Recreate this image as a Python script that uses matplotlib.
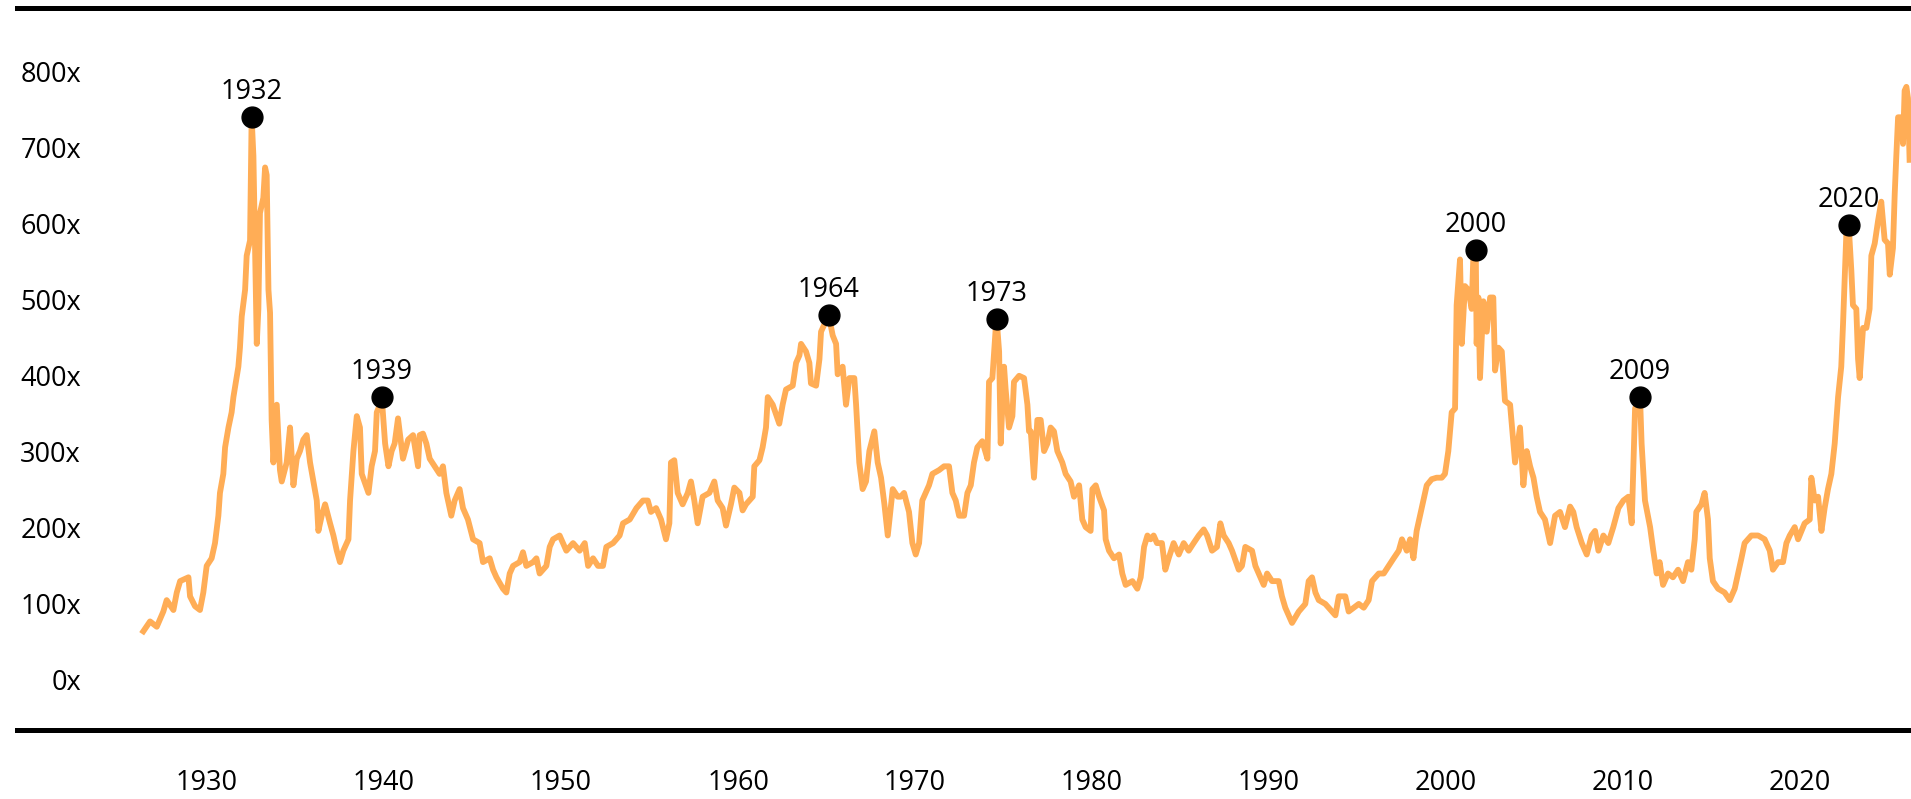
import matplotlib.pyplot as plt

plt.rcParams['font.family'] = ['Open Sans', 'DejaVu Sans']

# series (x in label-year units, y in "x" multiples)
years = [
    1926.40, 1926.78, 1927.16, 1927.53, 1927.72, 1928.10, 1928.29, 1928.48, 1928.95, 1929.04,
    1929.32, 1929.60, 1929.79, 1929.98, 1930.26, 1930.45, 1930.64, 1930.73, 1930.92, 1931.02,
    1931.21, 1931.39, 1931.49, 1931.77, 1931.86, 1931.96, 1932.15, 1932.24, 1932.43, 1932.52,
    1932.62, 1932.71, 1932.81, 1932.90, 1932.99, 1933.18, 1933.28, 1933.37, 1933.47, 1933.56,
    1933.65, 1933.75, 1933.94, 1934.12, 1934.22, 1934.50, 1934.69, 1934.88, 1935.07, 1935.25,
    1935.44, 1935.63, 1935.82, 1936.01, 1936.20, 1936.29, 1936.48, 1936.67, 1936.95, 1937.14,
    1937.33, 1937.51, 1937.70, 1937.99, 1938.08, 1938.27, 1938.46, 1938.64, 1938.74, 1939.12,
    1939.30, 1939.49, 1939.59, 1939.77, 1939.87, 1940.06, 1940.25, 1940.43,
    1940.60, 1940.79, 1941.07, 1941.36, 1941.64, 1941.92, 1942.01, 1942.20, 1942.39, 1942.58,
    1942.86, 1943.14, 1943.33, 1943.52, 1943.80, 1943.99, 1944.27, 1944.46, 1944.74, 1945.03,
    1945.40, 1945.59, 1945.97, 1946.16, 1946.35, 1946.72, 1946.91, 1947.10, 1947.29, 1947.66,
    1947.85, 1948.04, 1948.42, 1948.61, 1948.79, 1949.17, 1949.36, 1949.55, 1949.92, 1950.11,
    1950.30, 1950.68, 1951.05, 1951.34, 1951.53, 1951.81, 1952.09, 1952.37, 1952.56, 1952.94,
    1953.31, 1953.50, 1953.88, 1954.26, 1954.63,
    1954.90, 1955.08, 1955.37, 1955.65, 1955.93, 1956.12, 1956.21, 1956.40, 1956.59, 1956.87,
    1957.16, 1957.34, 1957.53, 1957.72, 1958.00, 1958.38, 1958.66, 1958.85, 1959.13, 1959.32,
    1959.60, 1959.79, 1960.08, 1960.26, 1960.45, 1960.83, 1960.92, 1961.21, 1961.39, 1961.58,
    1961.68, 1961.96, 1962.33, 1962.52, 1962.71, 1963.09, 1963.28, 1963.47, 1963.56, 1963.84,
    1964.03, 1964.12, 1964.41, 1964.60, 1964.69, 1965.12, 1965.35, 1965.54, 1965.63, 1965.91,
    1966.10, 1966.29, 1966.57, 1966.67, 1966.85, 1967.04, 1967.23, 1967.42, 1967.70, 1967.89,
    1968.08, 1968.27, 1968.46, 1968.74, 1969.02,
    1969.19, 1969.38, 1969.66, 1969.85, 1970.04, 1970.23, 1970.41, 1970.60, 1970.79, 1970.98,
    1971.36, 1971.64, 1971.92, 1972.11, 1972.30, 1972.49, 1972.77, 1972.96, 1973.15, 1973.33,
    1973.52, 1973.80, 1974.09, 1974.18, 1974.37, 1974.56, 1974.61, 1974.75, 1974.84, 1975.03,
    1975.12, 1975.31, 1975.50, 1975.59, 1975.88, 1976.16, 1976.35, 1976.44, 1976.54, 1976.72,
    1976.91, 1977.10, 1977.29, 1977.48, 1977.66, 1977.85, 1978.04, 1978.32, 1978.51, 1978.79,
    1978.98, 1979.27, 1979.45, 1979.64, 1979.92, 1980.02, 1980.21, 1980.40, 1980.68, 1980.77,
    1980.96, 1981.24, 1981.53, 1981.71, 1981.90, 1982.28, 1982.56, 1982.75, 1982.94, 1983.13,
    1983.31,
    1983.48, 1983.67, 1983.95, 1984.14, 1984.33, 1984.61, 1984.90, 1985.18, 1985.46, 1985.74,
    1986.03, 1986.31, 1986.50, 1986.78, 1987.06, 1987.25, 1987.44, 1987.72, 1987.91, 1988.29,
    1988.47, 1988.66, 1989.04, 1989.23, 1989.42, 1989.70, 1989.89, 1990.17, 1990.55, 1990.73,
    1990.92, 1991.11, 1991.30, 1991.68, 1992.05, 1992.24, 1992.43, 1992.62, 1992.81, 1993.18,
    1993.56, 1993.75, 1993.94, 1994.12, 1994.31, 1994.50, 1994.78, 1995.07, 1995.35, 1995.63,
    1995.82, 1996.20, 1996.48, 1996.76, 1997.04, 1997.33, 1997.51,
    1997.78, 1997.97, 1998.16, 1998.34, 1998.53, 1998.72, 1998.91, 1999.19, 1999.47, 1999.76,
    1999.94, 2000.13, 2000.32, 2000.51, 2000.60, 2000.79, 2000.89, 2001.07, 2001.26, 2001.45,
    2001.55, 2001.68, 2001.73, 2001.83, 2001.92, 2002.11, 2002.30, 2002.49, 2002.67, 2002.77,
    2002.96, 2003.15, 2003.33, 2003.62, 2003.90, 2004.18, 2004.37, 2004.56, 2004.75, 2004.94,
    2005.12, 2005.31, 2005.59, 2005.88, 2006.16, 2006.44, 2006.72, 2007.01, 2007.19, 2007.38,
    2007.67, 2007.95, 2008.23, 2008.42, 2008.61, 2008.89, 2009.17, 2009.45, 2009.74, 2010.02,
    2010.30, 2010.49, 2010.68, 2010.96, 2011.05, 2011.24, 2011.53, 2011.71, 2011.90,
    2012.07, 2012.26, 2012.54, 2012.82, 2013.11, 2013.39, 2013.67, 2013.86, 2014.05, 2014.14,
    2014.43, 2014.61, 2014.80, 2014.90, 2015.08, 2015.37, 2015.74, 2016.03, 2016.31, 2016.50,
    2016.69, 2016.87, 2017.25, 2017.63, 2018.00, 2018.29, 2018.47, 2018.76, 2019.04, 2019.23,
    2019.42, 2019.70, 2019.89, 2020.26, 2020.55, 2020.64, 2020.83, 2021.02, 2021.21, 2021.39,
    2021.58, 2021.77, 2021.96, 2022.15, 2022.33, 2022.43, 2022.62, 2022.75, 2022.90, 2022.99,
    2023.18, 2023.28, 2023.37, 2023.56, 2023.75, 2023.93, 2024.03, 2024.22, 2024.41, 2024.59,
    2024.78, 2024.97, 2025.07, 2025.25, 2025.35, 2025.44, 2025.54, 2025.73, 2025.82, 2025.91,
    2026.01, 2026.10, 2026.19,
]

ratio = [
    64, 77, 70, 90, 105, 92, 115, 130, 135, 110,
    97, 92, 115, 150, 160, 180, 216, 246, 271, 306,
    332, 352, 372, 412, 437, 478, 513, 558, 578, 740,
    689, 574, 442, 488, 614, 634, 674, 664, 513, 483,
    342, 286, 362, 276, 261, 286, 332, 256, 291, 301,
    316, 322, 286, 261, 236, 196, 216, 231, 206, 190,
    170, 155, 170, 185, 236, 301, 347, 332, 271, 246,
    281, 301, 352, 362, 372, 311, 281, 301,
    311, 344, 291, 316, 322, 281, 322, 324, 311, 291,
    281, 271, 281, 246, 216, 236, 251, 226, 211, 185,
    180, 155, 160, 145, 135, 120, 115, 140, 150, 155,
    168, 150, 155, 160, 140, 150, 175, 185, 190, 180,
    170, 180, 170, 180, 150, 160, 150, 150, 175, 180,
    190, 206, 211, 226, 236,
    236, 221, 226, 211, 185, 206, 286, 289, 246, 231,
    246, 261, 236, 206, 241, 246, 261, 236, 226, 203,
    231, 253, 246, 223, 231, 241, 281, 289, 306, 332,
    372, 362, 337, 362, 382, 387, 417, 427, 442, 432,
    417, 390, 387, 422, 458, 480, 453, 442, 402, 412,
    362, 397, 397, 362, 286, 251, 261, 301, 327, 286,
    266, 231, 190, 251, 241,
    241, 246, 221, 180, 165, 180, 236, 246, 256, 271,
    276, 281, 281, 246, 236, 216, 216, 246, 256, 286,
    306, 314, 291, 392, 397, 463, 475, 432, 311, 412,
    382, 332, 347, 392, 400, 397, 362, 327, 327, 266,
    342, 342, 301, 311, 332, 327, 301, 286, 271, 261,
    241, 256, 211, 201, 196, 251, 256, 241, 223, 185,
    170, 160, 165, 140, 125, 130, 120, 135, 175, 190,
    185,
    190, 180, 180, 145, 160, 180, 165, 180, 170, 180,
    190, 198, 190, 170, 175, 206, 190, 180, 170, 145,
    150, 175, 170, 150, 140, 125, 140, 130, 130, 110,
    95, 85, 75, 90, 100, 130, 135, 115, 105, 100,
    90, 85, 110, 110, 110, 90, 95, 100, 95, 105,
    130, 140, 140, 150, 160, 170, 185,
    170, 185, 160, 196, 216, 236, 256, 264, 266, 266,
    271, 301, 352, 357, 493, 553, 442, 518, 513, 488,
    563, 566, 442, 503, 397, 498, 458, 503, 503, 407,
    437, 432, 367, 362, 286, 332, 256, 301, 281, 266,
    241, 221, 211, 180, 216, 221, 201, 228, 221, 201,
    180, 165, 190, 196, 170, 190, 180, 201, 226, 236,
    241, 206, 357, 372, 311, 236, 201, 170, 140,
    155, 125, 140, 135, 145, 130, 155, 145, 185, 221,
    231, 246, 211, 160, 130, 120, 115, 105, 120, 140,
    160, 180, 190, 190, 185, 170, 145, 155, 155, 180,
    190, 201, 185, 206, 211, 266, 236, 241, 196, 226,
    251, 271, 311, 372, 412, 468, 589, 598, 538, 493,
    488, 422, 397, 463, 463, 488, 558, 574, 604, 629,
    579, 574, 533, 568, 639, 689, 740, 740, 705, 775,
    780, 765, 684,
]

# labelled peaks
peak_years = [1932.52, 1939.87, 1965.12, 1974.61, 2001.68, 2010.96, 2022.75]
peak_values = [740, 372, 480, 475, 566, 372, 598]
peak_labels = ['1932', '1939', '1964', '1973', '2000', '2009', '2020']

xtick_years = [1930, 1940, 1950, 1960, 1970, 1980, 1990, 2000, 2010, 2020]
ytick_values = [0, 100, 200, 300, 400, 500, 600, 700, 800]

fig = plt.figure(figsize=(19.11, 7.99), dpi=100)
ax = fig.add_axes([0.00905, 0.08636, 0.99095, 0.90325])

ax.plot(years, ratio, color='#FFAD56', linewidth=4.2, zorder=2)
ax.scatter(peak_years, peak_values, s=225, color='black', zorder=3)
for x, y, label in zip(peak_years, peak_values, peak_labels):
    ax.annotate(label, (x, y), xytext=(0, 13), textcoords='offset points',
                ha='center', va='baseline', fontsize=19.5, color='black')

ax.set_xlim(1919.28, 2026.27)
ax.set_ylim(-65.8, 883.3)

for side in ['left', 'right']:
    ax.spines[side].set_visible(False)
for side in ['top', 'bottom']:
    ax.spines[side].set_linewidth(3.6)
    ax.spines[side].set_color('black')

ax.set_xticks(xtick_years)
ax.set_xticklabels([str(y) for y in xtick_years])
ax.set_yticks(ytick_values)
ax.set_yticklabels([f'{v}x' for v in ytick_values])
ax.tick_params(axis='y', length=0, pad=-45.9, labelsize=19.5)
ax.tick_params(axis='x', length=0, pad=28, labelsize=19.5)

fig.savefig('out.png', dpi=100)
